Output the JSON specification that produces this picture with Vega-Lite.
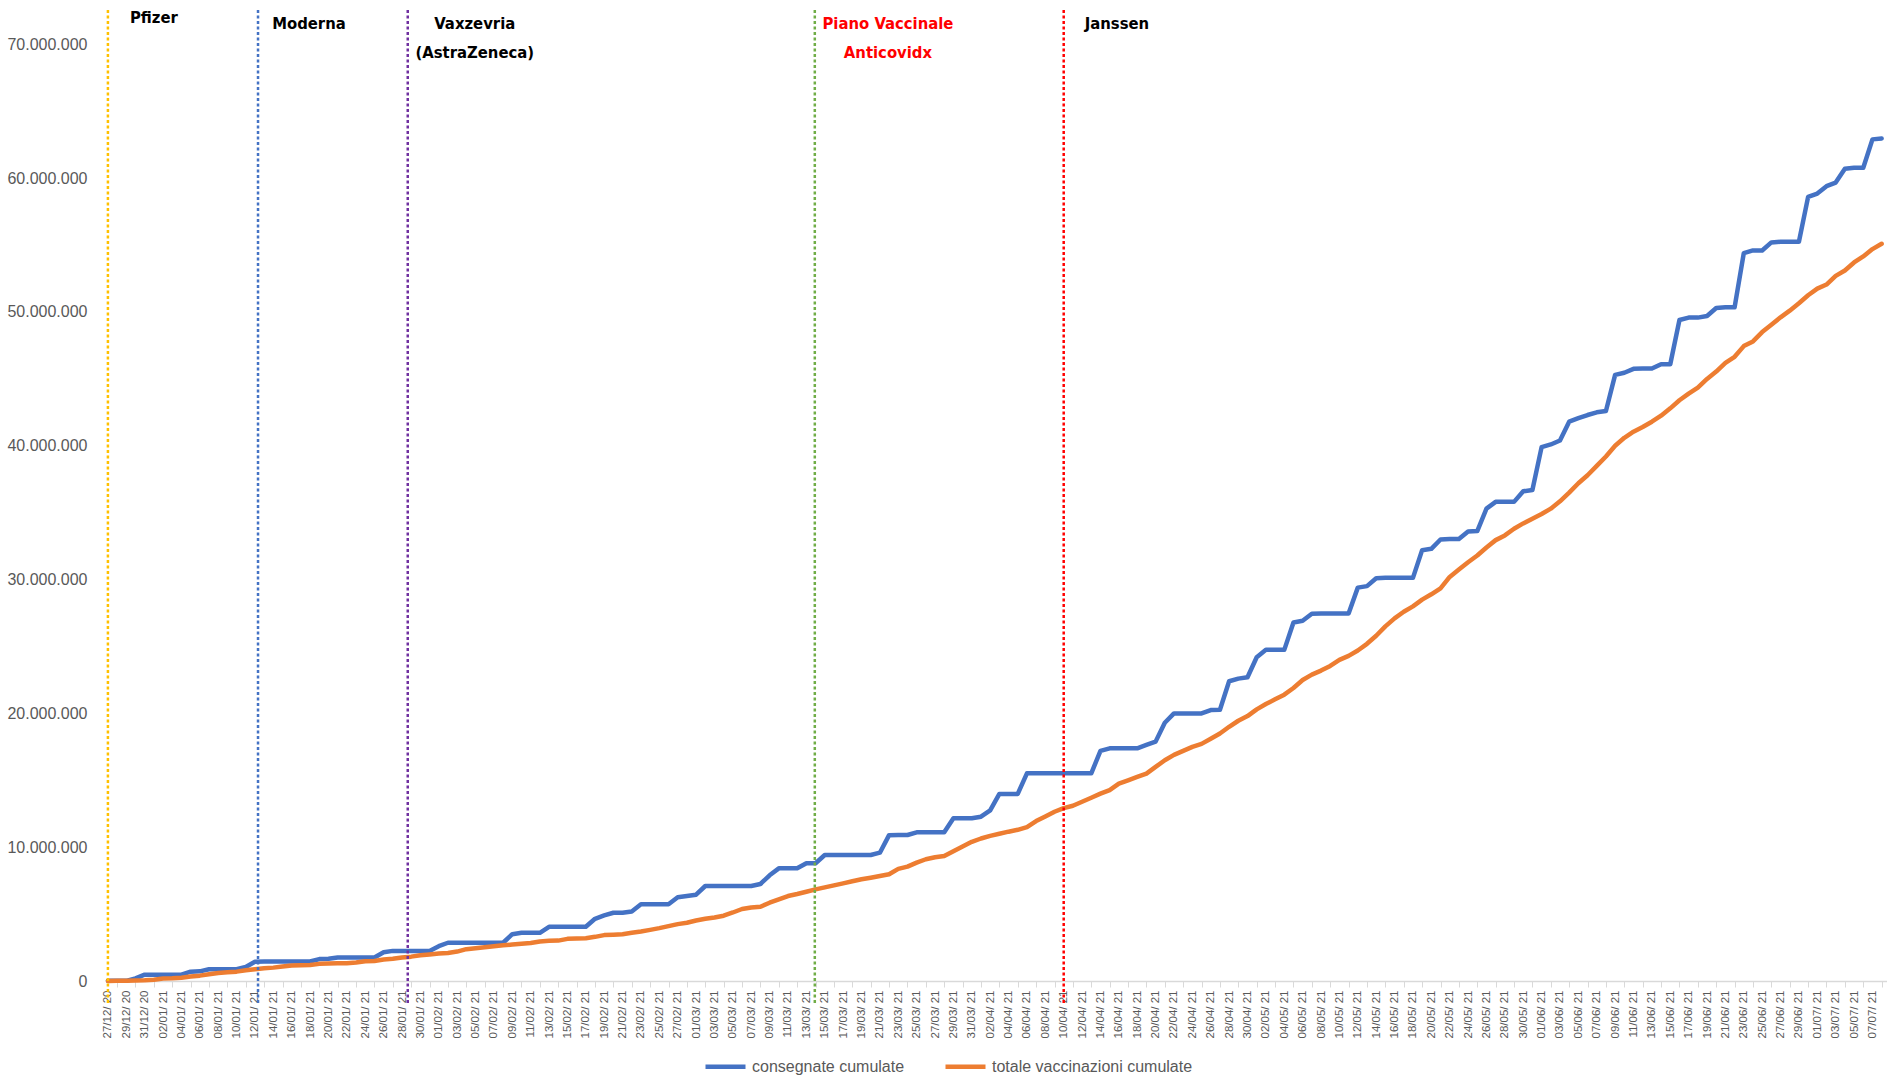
{
  "$schema": "https://vega.github.io/schema/vega-lite/v6.json",
  "autosize": {"type": "none"},
  "padding": {"left": 106, "top": 10, "right": 0, "bottom": 96},
  "width": 1781,
  "height": 971,
  "background": "#ffffff",
  "config": {"view": {"stroke": null}},
  "datasets": {
    "serie": [
      {"data": "2020-12-27", "consegnate cumulate": 10000, "totale vaccinazioni cumulate": 7000},
      {"data": "2020-12-28", "consegnate cumulate": 10000, "totale vaccinazioni cumulate": 10000},
      {"data": "2020-12-29", "consegnate cumulate": 10000, "totale vaccinazioni cumulate": 20000},
      {"data": "2020-12-30", "consegnate cumulate": 200000, "totale vaccinazioni cumulate": 30000},
      {"data": "2020-12-31", "consegnate cumulate": 470000, "totale vaccinazioni cumulate": 50000},
      {"data": "2021-01-01", "consegnate cumulate": 470000, "totale vaccinazioni cumulate": 90000},
      {"data": "2021-01-02", "consegnate cumulate": 470000, "totale vaccinazioni cumulate": 180000},
      {"data": "2021-01-03", "consegnate cumulate": 470000, "totale vaccinazioni cumulate": 200000},
      {"data": "2021-01-04", "consegnate cumulate": 470000, "totale vaccinazioni cumulate": 250000},
      {"data": "2021-01-05", "consegnate cumulate": 700000, "totale vaccinazioni cumulate": 330000},
      {"data": "2021-01-06", "consegnate cumulate": 720000, "totale vaccinazioni cumulate": 400000},
      {"data": "2021-01-07", "consegnate cumulate": 880000, "totale vaccinazioni cumulate": 500000},
      {"data": "2021-01-08", "consegnate cumulate": 880000, "totale vaccinazioni cumulate": 600000},
      {"data": "2021-01-09", "consegnate cumulate": 880000, "totale vaccinazioni cumulate": 650000},
      {"data": "2021-01-10", "consegnate cumulate": 880000, "totale vaccinazioni cumulate": 700000},
      {"data": "2021-01-11", "consegnate cumulate": 1050000, "totale vaccinazioni cumulate": 800000},
      {"data": "2021-01-12", "consegnate cumulate": 1440000, "totale vaccinazioni cumulate": 880000},
      {"data": "2021-01-13", "consegnate cumulate": 1460000, "totale vaccinazioni cumulate": 950000},
      {"data": "2021-01-14", "consegnate cumulate": 1460000, "totale vaccinazioni cumulate": 1000000},
      {"data": "2021-01-15", "consegnate cumulate": 1460000, "totale vaccinazioni cumulate": 1080000},
      {"data": "2021-01-16", "consegnate cumulate": 1460000, "totale vaccinazioni cumulate": 1150000},
      {"data": "2021-01-17", "consegnate cumulate": 1460000, "totale vaccinazioni cumulate": 1180000},
      {"data": "2021-01-18", "consegnate cumulate": 1460000, "totale vaccinazioni cumulate": 1200000},
      {"data": "2021-01-19", "consegnate cumulate": 1640000, "totale vaccinazioni cumulate": 1280000},
      {"data": "2021-01-20", "consegnate cumulate": 1660000, "totale vaccinazioni cumulate": 1300000},
      {"data": "2021-01-21", "consegnate cumulate": 1760000, "totale vaccinazioni cumulate": 1320000},
      {"data": "2021-01-22", "consegnate cumulate": 1760000, "totale vaccinazioni cumulate": 1330000},
      {"data": "2021-01-23", "consegnate cumulate": 1760000, "totale vaccinazioni cumulate": 1380000},
      {"data": "2021-01-24", "consegnate cumulate": 1760000, "totale vaccinazioni cumulate": 1470000},
      {"data": "2021-01-25", "consegnate cumulate": 1760000, "totale vaccinazioni cumulate": 1500000},
      {"data": "2021-01-26", "consegnate cumulate": 2150000, "totale vaccinazioni cumulate": 1600000},
      {"data": "2021-01-27", "consegnate cumulate": 2250000, "totale vaccinazioni cumulate": 1660000},
      {"data": "2021-01-28", "consegnate cumulate": 2250000, "totale vaccinazioni cumulate": 1760000},
      {"data": "2021-01-29", "consegnate cumulate": 2250000, "totale vaccinazioni cumulate": 1820000},
      {"data": "2021-01-30", "consegnate cumulate": 2250000, "totale vaccinazioni cumulate": 1920000},
      {"data": "2021-01-31", "consegnate cumulate": 2250000, "totale vaccinazioni cumulate": 1980000},
      {"data": "2021-02-01", "consegnate cumulate": 2600000, "totale vaccinazioni cumulate": 2050000},
      {"data": "2021-02-02", "consegnate cumulate": 2860000, "totale vaccinazioni cumulate": 2100000},
      {"data": "2021-02-03", "consegnate cumulate": 2860000, "totale vaccinazioni cumulate": 2200000},
      {"data": "2021-02-04", "consegnate cumulate": 2860000, "totale vaccinazioni cumulate": 2380000},
      {"data": "2021-02-05", "consegnate cumulate": 2860000, "totale vaccinazioni cumulate": 2450000},
      {"data": "2021-02-06", "consegnate cumulate": 2860000, "totale vaccinazioni cumulate": 2530000},
      {"data": "2021-02-07", "consegnate cumulate": 2860000, "totale vaccinazioni cumulate": 2600000},
      {"data": "2021-02-08", "consegnate cumulate": 2860000, "totale vaccinazioni cumulate": 2670000},
      {"data": "2021-02-09", "consegnate cumulate": 3500000, "totale vaccinazioni cumulate": 2720000},
      {"data": "2021-02-10", "consegnate cumulate": 3600000, "totale vaccinazioni cumulate": 2780000},
      {"data": "2021-02-11", "consegnate cumulate": 3600000, "totale vaccinazioni cumulate": 2840000},
      {"data": "2021-02-12", "consegnate cumulate": 3600000, "totale vaccinazioni cumulate": 2950000},
      {"data": "2021-02-13", "consegnate cumulate": 4050000, "totale vaccinazioni cumulate": 3000000},
      {"data": "2021-02-14", "consegnate cumulate": 4050000, "totale vaccinazioni cumulate": 3020000},
      {"data": "2021-02-15", "consegnate cumulate": 4050000, "totale vaccinazioni cumulate": 3150000},
      {"data": "2021-02-16", "consegnate cumulate": 4050000, "totale vaccinazioni cumulate": 3170000},
      {"data": "2021-02-17", "consegnate cumulate": 4050000, "totale vaccinazioni cumulate": 3200000},
      {"data": "2021-02-18", "consegnate cumulate": 4650000, "totale vaccinazioni cumulate": 3300000},
      {"data": "2021-02-19", "consegnate cumulate": 4900000, "totale vaccinazioni cumulate": 3430000},
      {"data": "2021-02-20", "consegnate cumulate": 5100000, "totale vaccinazioni cumulate": 3460000},
      {"data": "2021-02-21", "consegnate cumulate": 5100000, "totale vaccinazioni cumulate": 3500000},
      {"data": "2021-02-22", "consegnate cumulate": 5200000, "totale vaccinazioni cumulate": 3600000},
      {"data": "2021-02-23", "consegnate cumulate": 5730000, "totale vaccinazioni cumulate": 3700000},
      {"data": "2021-02-24", "consegnate cumulate": 5730000, "totale vaccinazioni cumulate": 3820000},
      {"data": "2021-02-25", "consegnate cumulate": 5730000, "totale vaccinazioni cumulate": 3950000},
      {"data": "2021-02-26", "consegnate cumulate": 5730000, "totale vaccinazioni cumulate": 4100000},
      {"data": "2021-02-27", "consegnate cumulate": 6260000, "totale vaccinazioni cumulate": 4250000},
      {"data": "2021-02-28", "consegnate cumulate": 6350000, "totale vaccinazioni cumulate": 4350000},
      {"data": "2021-03-01", "consegnate cumulate": 6450000, "totale vaccinazioni cumulate": 4520000},
      {"data": "2021-03-02", "consegnate cumulate": 7100000, "totale vaccinazioni cumulate": 4650000},
      {"data": "2021-03-03", "consegnate cumulate": 7100000, "totale vaccinazioni cumulate": 4750000},
      {"data": "2021-03-04", "consegnate cumulate": 7100000, "totale vaccinazioni cumulate": 4880000},
      {"data": "2021-03-05", "consegnate cumulate": 7100000, "totale vaccinazioni cumulate": 5120000},
      {"data": "2021-03-06", "consegnate cumulate": 7100000, "totale vaccinazioni cumulate": 5380000},
      {"data": "2021-03-07", "consegnate cumulate": 7100000, "totale vaccinazioni cumulate": 5500000},
      {"data": "2021-03-08", "consegnate cumulate": 7250000, "totale vaccinazioni cumulate": 5550000},
      {"data": "2021-03-09", "consegnate cumulate": 7900000, "totale vaccinazioni cumulate": 5850000},
      {"data": "2021-03-10", "consegnate cumulate": 8420000, "totale vaccinazioni cumulate": 6100000},
      {"data": "2021-03-11", "consegnate cumulate": 8420000, "totale vaccinazioni cumulate": 6350000},
      {"data": "2021-03-12", "consegnate cumulate": 8420000, "totale vaccinazioni cumulate": 6500000},
      {"data": "2021-03-13", "consegnate cumulate": 8800000, "totale vaccinazioni cumulate": 6670000},
      {"data": "2021-03-14", "consegnate cumulate": 8800000, "totale vaccinazioni cumulate": 6850000},
      {"data": "2021-03-15", "consegnate cumulate": 9420000, "totale vaccinazioni cumulate": 7000000},
      {"data": "2021-03-16", "consegnate cumulate": 9420000, "totale vaccinazioni cumulate": 7150000},
      {"data": "2021-03-17", "consegnate cumulate": 9420000, "totale vaccinazioni cumulate": 7300000},
      {"data": "2021-03-18", "consegnate cumulate": 9420000, "totale vaccinazioni cumulate": 7450000},
      {"data": "2021-03-19", "consegnate cumulate": 9420000, "totale vaccinazioni cumulate": 7600000},
      {"data": "2021-03-20", "consegnate cumulate": 9420000, "totale vaccinazioni cumulate": 7720000},
      {"data": "2021-03-21", "consegnate cumulate": 9590000, "totale vaccinazioni cumulate": 7850000},
      {"data": "2021-03-22", "consegnate cumulate": 10900000, "totale vaccinazioni cumulate": 7980000},
      {"data": "2021-03-23", "consegnate cumulate": 10910000, "totale vaccinazioni cumulate": 8380000},
      {"data": "2021-03-24", "consegnate cumulate": 10910000, "totale vaccinazioni cumulate": 8550000},
      {"data": "2021-03-25", "consegnate cumulate": 11110000, "totale vaccinazioni cumulate": 8850000},
      {"data": "2021-03-26", "consegnate cumulate": 11110000, "totale vaccinazioni cumulate": 9100000},
      {"data": "2021-03-27", "consegnate cumulate": 11110000, "totale vaccinazioni cumulate": 9250000},
      {"data": "2021-03-28", "consegnate cumulate": 11110000, "totale vaccinazioni cumulate": 9340000},
      {"data": "2021-03-29", "consegnate cumulate": 12160000, "totale vaccinazioni cumulate": 9700000},
      {"data": "2021-03-30", "consegnate cumulate": 12160000, "totale vaccinazioni cumulate": 10050000},
      {"data": "2021-03-31", "consegnate cumulate": 12160000, "totale vaccinazioni cumulate": 10400000},
      {"data": "2021-04-01", "consegnate cumulate": 12280000, "totale vaccinazioni cumulate": 10650000},
      {"data": "2021-04-02", "consegnate cumulate": 12750000, "totale vaccinazioni cumulate": 10850000},
      {"data": "2021-04-03", "consegnate cumulate": 13980000, "totale vaccinazioni cumulate": 11000000},
      {"data": "2021-04-04", "consegnate cumulate": 13980000, "totale vaccinazioni cumulate": 11160000},
      {"data": "2021-04-05", "consegnate cumulate": 13980000, "totale vaccinazioni cumulate": 11300000},
      {"data": "2021-04-06", "consegnate cumulate": 15520000, "totale vaccinazioni cumulate": 11500000},
      {"data": "2021-04-07", "consegnate cumulate": 15520000, "totale vaccinazioni cumulate": 11950000},
      {"data": "2021-04-08", "consegnate cumulate": 15520000, "totale vaccinazioni cumulate": 12300000},
      {"data": "2021-04-09", "consegnate cumulate": 15520000, "totale vaccinazioni cumulate": 12650000},
      {"data": "2021-04-10", "consegnate cumulate": 15520000, "totale vaccinazioni cumulate": 12920000},
      {"data": "2021-04-11", "consegnate cumulate": 15520000, "totale vaccinazioni cumulate": 13100000},
      {"data": "2021-04-12", "consegnate cumulate": 15520000, "totale vaccinazioni cumulate": 13400000},
      {"data": "2021-04-13", "consegnate cumulate": 15520000, "totale vaccinazioni cumulate": 13700000},
      {"data": "2021-04-14", "consegnate cumulate": 17200000, "totale vaccinazioni cumulate": 14000000},
      {"data": "2021-04-15", "consegnate cumulate": 17390000, "totale vaccinazioni cumulate": 14270000},
      {"data": "2021-04-16", "consegnate cumulate": 17390000, "totale vaccinazioni cumulate": 14750000},
      {"data": "2021-04-17", "consegnate cumulate": 17390000, "totale vaccinazioni cumulate": 15000000},
      {"data": "2021-04-18", "consegnate cumulate": 17390000, "totale vaccinazioni cumulate": 15250000},
      {"data": "2021-04-19", "consegnate cumulate": 17640000, "totale vaccinazioni cumulate": 15500000},
      {"data": "2021-04-20", "consegnate cumulate": 17890000, "totale vaccinazioni cumulate": 16000000},
      {"data": "2021-04-21", "consegnate cumulate": 19300000, "totale vaccinazioni cumulate": 16500000},
      {"data": "2021-04-22", "consegnate cumulate": 20000000, "totale vaccinazioni cumulate": 16900000},
      {"data": "2021-04-23", "consegnate cumulate": 20000000, "totale vaccinazioni cumulate": 17200000},
      {"data": "2021-04-24", "consegnate cumulate": 20000000, "totale vaccinazioni cumulate": 17500000},
      {"data": "2021-04-25", "consegnate cumulate": 20000000, "totale vaccinazioni cumulate": 17720000},
      {"data": "2021-04-26", "consegnate cumulate": 20250000, "totale vaccinazioni cumulate": 18100000},
      {"data": "2021-04-27", "consegnate cumulate": 20270000, "totale vaccinazioni cumulate": 18500000},
      {"data": "2021-04-28", "consegnate cumulate": 22400000, "totale vaccinazioni cumulate": 19000000},
      {"data": "2021-04-29", "consegnate cumulate": 22600000, "totale vaccinazioni cumulate": 19450000},
      {"data": "2021-04-30", "consegnate cumulate": 22700000, "totale vaccinazioni cumulate": 19800000},
      {"data": "2021-05-01", "consegnate cumulate": 24200000, "totale vaccinazioni cumulate": 20300000},
      {"data": "2021-05-02", "consegnate cumulate": 24750000, "totale vaccinazioni cumulate": 20700000},
      {"data": "2021-05-03", "consegnate cumulate": 24750000, "totale vaccinazioni cumulate": 21050000},
      {"data": "2021-05-04", "consegnate cumulate": 24750000, "totale vaccinazioni cumulate": 21400000},
      {"data": "2021-05-05", "consegnate cumulate": 26800000, "totale vaccinazioni cumulate": 21900000},
      {"data": "2021-05-06", "consegnate cumulate": 26920000, "totale vaccinazioni cumulate": 22500000},
      {"data": "2021-05-07", "consegnate cumulate": 27450000, "totale vaccinazioni cumulate": 22900000},
      {"data": "2021-05-08", "consegnate cumulate": 27470000, "totale vaccinazioni cumulate": 23200000},
      {"data": "2021-05-09", "consegnate cumulate": 27470000, "totale vaccinazioni cumulate": 23550000},
      {"data": "2021-05-10", "consegnate cumulate": 27470000, "totale vaccinazioni cumulate": 24000000},
      {"data": "2021-05-11", "consegnate cumulate": 27470000, "totale vaccinazioni cumulate": 24300000},
      {"data": "2021-05-12", "consegnate cumulate": 29400000, "totale vaccinazioni cumulate": 24700000},
      {"data": "2021-05-13", "consegnate cumulate": 29510000, "totale vaccinazioni cumulate": 25200000},
      {"data": "2021-05-14", "consegnate cumulate": 30100000, "totale vaccinazioni cumulate": 25800000},
      {"data": "2021-05-15", "consegnate cumulate": 30130000, "totale vaccinazioni cumulate": 26500000},
      {"data": "2021-05-16", "consegnate cumulate": 30130000, "totale vaccinazioni cumulate": 27100000},
      {"data": "2021-05-17", "consegnate cumulate": 30130000, "totale vaccinazioni cumulate": 27600000},
      {"data": "2021-05-18", "consegnate cumulate": 30130000, "totale vaccinazioni cumulate": 28000000},
      {"data": "2021-05-19", "consegnate cumulate": 32200000, "totale vaccinazioni cumulate": 28500000},
      {"data": "2021-05-20", "consegnate cumulate": 32300000, "totale vaccinazioni cumulate": 28900000},
      {"data": "2021-05-21", "consegnate cumulate": 33000000, "totale vaccinazioni cumulate": 29350000},
      {"data": "2021-05-22", "consegnate cumulate": 33030000, "totale vaccinazioni cumulate": 30200000},
      {"data": "2021-05-23", "consegnate cumulate": 33030000, "totale vaccinazioni cumulate": 30750000},
      {"data": "2021-05-24", "consegnate cumulate": 33600000, "totale vaccinazioni cumulate": 31300000},
      {"data": "2021-05-25", "consegnate cumulate": 33630000, "totale vaccinazioni cumulate": 31800000},
      {"data": "2021-05-26", "consegnate cumulate": 35300000, "totale vaccinazioni cumulate": 32400000},
      {"data": "2021-05-27", "consegnate cumulate": 35810000, "totale vaccinazioni cumulate": 32950000},
      {"data": "2021-05-28", "consegnate cumulate": 35810000, "totale vaccinazioni cumulate": 33300000},
      {"data": "2021-05-29", "consegnate cumulate": 35810000, "totale vaccinazioni cumulate": 33800000},
      {"data": "2021-05-30", "consegnate cumulate": 36600000, "totale vaccinazioni cumulate": 34200000},
      {"data": "2021-05-31", "consegnate cumulate": 36700000, "totale vaccinazioni cumulate": 34550000},
      {"data": "2021-06-01", "consegnate cumulate": 39900000, "totale vaccinazioni cumulate": 34900000},
      {"data": "2021-06-02", "consegnate cumulate": 40100000, "totale vaccinazioni cumulate": 35300000},
      {"data": "2021-06-03", "consegnate cumulate": 40400000, "totale vaccinazioni cumulate": 35850000},
      {"data": "2021-06-04", "consegnate cumulate": 41800000, "totale vaccinazioni cumulate": 36500000},
      {"data": "2021-06-05", "consegnate cumulate": 42060000, "totale vaccinazioni cumulate": 37200000},
      {"data": "2021-06-06", "consegnate cumulate": 42300000, "totale vaccinazioni cumulate": 37800000},
      {"data": "2021-06-07", "consegnate cumulate": 42500000, "totale vaccinazioni cumulate": 38500000},
      {"data": "2021-06-08", "consegnate cumulate": 42600000, "totale vaccinazioni cumulate": 39200000},
      {"data": "2021-06-09", "consegnate cumulate": 45300000, "totale vaccinazioni cumulate": 40000000},
      {"data": "2021-06-10", "consegnate cumulate": 45460000, "totale vaccinazioni cumulate": 40600000},
      {"data": "2021-06-11", "consegnate cumulate": 45750000, "totale vaccinazioni cumulate": 41050000},
      {"data": "2021-06-12", "consegnate cumulate": 45770000, "totale vaccinazioni cumulate": 41400000},
      {"data": "2021-06-13", "consegnate cumulate": 45770000, "totale vaccinazioni cumulate": 41800000},
      {"data": "2021-06-14", "consegnate cumulate": 46100000, "totale vaccinazioni cumulate": 42250000},
      {"data": "2021-06-15", "consegnate cumulate": 46100000, "totale vaccinazioni cumulate": 42800000},
      {"data": "2021-06-16", "consegnate cumulate": 49400000, "totale vaccinazioni cumulate": 43400000},
      {"data": "2021-06-17", "consegnate cumulate": 49580000, "totale vaccinazioni cumulate": 43900000},
      {"data": "2021-06-18", "consegnate cumulate": 49580000, "totale vaccinazioni cumulate": 44350000},
      {"data": "2021-06-19", "consegnate cumulate": 49700000, "totale vaccinazioni cumulate": 45000000},
      {"data": "2021-06-20", "consegnate cumulate": 50300000, "totale vaccinazioni cumulate": 45550000},
      {"data": "2021-06-21", "consegnate cumulate": 50350000, "totale vaccinazioni cumulate": 46200000},
      {"data": "2021-06-22", "consegnate cumulate": 50350000, "totale vaccinazioni cumulate": 46650000},
      {"data": "2021-06-23", "consegnate cumulate": 54400000, "totale vaccinazioni cumulate": 47450000},
      {"data": "2021-06-24", "consegnate cumulate": 54600000, "totale vaccinazioni cumulate": 47800000},
      {"data": "2021-06-25", "consegnate cumulate": 54600000, "totale vaccinazioni cumulate": 48500000},
      {"data": "2021-06-26", "consegnate cumulate": 55200000, "totale vaccinazioni cumulate": 49050000},
      {"data": "2021-06-27", "consegnate cumulate": 55250000, "totale vaccinazioni cumulate": 49600000},
      {"data": "2021-06-28", "consegnate cumulate": 55250000, "totale vaccinazioni cumulate": 50100000},
      {"data": "2021-06-29", "consegnate cumulate": 55250000, "totale vaccinazioni cumulate": 50650000},
      {"data": "2021-06-30", "consegnate cumulate": 58600000, "totale vaccinazioni cumulate": 51250000},
      {"data": "2021-07-01", "consegnate cumulate": 58850000, "totale vaccinazioni cumulate": 51750000},
      {"data": "2021-07-02", "consegnate cumulate": 59400000, "totale vaccinazioni cumulate": 52050000},
      {"data": "2021-07-03", "consegnate cumulate": 59670000, "totale vaccinazioni cumulate": 52700000},
      {"data": "2021-07-04", "consegnate cumulate": 60700000, "totale vaccinazioni cumulate": 53100000},
      {"data": "2021-07-05", "consegnate cumulate": 60780000, "totale vaccinazioni cumulate": 53700000},
      {"data": "2021-07-06", "consegnate cumulate": 60780000, "totale vaccinazioni cumulate": 54150000},
      {"data": "2021-07-07", "consegnate cumulate": 62900000, "totale vaccinazioni cumulate": 54700000},
      {"data": "2021-07-08", "consegnate cumulate": 62970000, "totale vaccinazioni cumulate": 55100000}
    ],
    "eventi": [
      {"data": "2020-12-27T00:00:00Z", "evento": "Pfizer"},
      {"data": "2021-01-12T08:00:00Z", "evento": "Moderna"},
      {"data": "2021-01-28T15:00:00Z", "evento": "Vaxzevria"},
      {"data": "2021-03-13T22:00:00Z", "evento": "Piano"},
      {"data": "2021-04-10T00:00:00Z", "evento": "Janssen"}
    ],
    "etichette": [
      {"data": "2021-01-01T00:00:00Z", "quota": 71970000, "testo": "Pfizer", "gruppo": "vaccino"},
      {"data": "2021-01-17T21:00:00Z", "quota": 71520000, "testo": "Moderna", "gruppo": "vaccino"},
      {"data": "2021-02-04T22:00:00Z", "quota": 71520000, "testo": "Vaxzevria", "gruppo": "vaccino"},
      {"data": "2021-02-04T22:00:00Z", "quota": 69360000, "testo": "(AstraZeneca)", "gruppo": "vaccino"},
      {"data": "2021-03-21T21:00:00Z", "quota": 71520000, "testo": "Piano Vaccinale", "gruppo": "piano"},
      {"data": "2021-03-21T21:00:00Z", "quota": 69360000, "testo": "Anticovidx", "gruppo": "piano"},
      {"data": "2021-04-15T19:00:00Z", "quota": 71520000, "testo": "Janssen", "gruppo": "vaccino"}
    ]
  },
  "layer": [
    {
      "data": {"name": "serie"},
      "transform": [{"fold": ["consegnate cumulate", "totale vaccinazioni cumulate"], "as": ["serie", "valore"]}],
      "mark": {"type": "line", "strokeWidth": 4.5, "strokeJoin": "round", "strokeCap": "round"},
      "encoding": {
        "x": {
          "field": "data", "type": "temporal",
          "scale": {"type": "utc", "nice": false, "domain": [{"year": 2020, "month": 12, "date": 26, "hours": 19, "utc": true}, {"year": 2021, "month": 7, "date": 8, "hours": 14, "utc": true}]},
          "axis": {
            "title": null, "grid": false,
            "tickCount": {"interval": "day", "step": 1},
            "labelExpr": "(round((datum.value - utc(2020,11,27))/86400000) % 2 == 0) ? utcFormat(datum.value, '%d/%m/ %y') : ''",
            "labelAngle": 270, "labelOverlap": false, "labelBound": false, "labelFlush": false,
            "labelFont": "Liberation Sans", "labelFontSize": 11.5, "labelColor": "#595959", "labelPadding": 3,
            "domainColor": "#D9D9D9", "domainWidth": 1.5,
            "tickColor": "#D9D9D9", "tickSize": 6, "tickWidth": 1,
            "tickOpacity": {"condition": {"test": "round((datum.value - utc(2020,11,27))/86400000) % 2 == 1", "value": 1}, "value": 0}
          }
        },
        "y": {
          "field": "valore", "type": "quantitative",
          "scale": {"domain": [0, 72570000], "nice": false},
          "axis": {
            "title": null, "grid": false, "domain": false, "ticks": false,
            "values": [0, 10000000, 20000000, 30000000, 40000000, 50000000, 60000000, 70000000],
            "labelExpr": "datum.value == 0 ? '0' : format(datum.value / 1000000, 'd') + '.000.000'",
            "labelFont": "Liberation Sans", "labelFontSize": 16, "labelColor": "#595959", "labelPadding": 19
          }
        },
        "color": {
          "field": "serie", "type": "nominal",
          "scale": {"domain": ["consegnate cumulate", "totale vaccinazioni cumulate"], "range": ["#4472C4", "#ED7D31"]},
          "legend": {
            "title": null, "orient": "none", "legendX": 597, "legendY": 1034, "direction": "horizontal",
            "symbolType": "stroke", "symbolSize": 1600, "symbolStrokeWidth": 4.5,
            "labelFont": "Liberation Sans", "labelFontSize": 16, "labelColor": "#595959", "labelLimit": 400,
            "labelOffset": 4, "columnPadding": 31
          }
        }
      }
    },
    {
      "data": {"name": "eventi"},
      "mark": {"type": "rule", "strokeWidth": 2.5, "strokeDash": [3, 2.5]},
      "encoding": {
        "x": {"field": "data", "type": "temporal"},
        "y": {"datum": 72570000},
        "y2": {"datum": -1800000},
        "stroke": {
          "field": "evento", "type": "nominal",
          "scale": {"domain": ["Pfizer", "Moderna", "Vaxzevria", "Piano", "Janssen"], "range": ["#FFC000", "#4472C4", "#7030A0", "#70AD47", "#FF0000"]},
          "legend": null
        }
      }
    },
    {
      "data": {"name": "etichette"},
      "mark": {"type": "text", "font": "DejaVu Sans Condensed, Liberation Sans Narrow, sans-serif", "fontWeight": "bold", "fontSize": 16.5, "align": "center", "baseline": "middle"},
      "encoding": {
        "x": {"field": "data", "type": "temporal"},
        "y": {"field": "quota", "type": "quantitative"},
        "text": {"field": "testo"},
        "fill": {
          "field": "gruppo", "type": "nominal",
          "scale": {"domain": ["vaccino", "piano"], "range": ["#000000", "#FF0000"]},
          "legend": null
        }
      }
    }
  ]
}
